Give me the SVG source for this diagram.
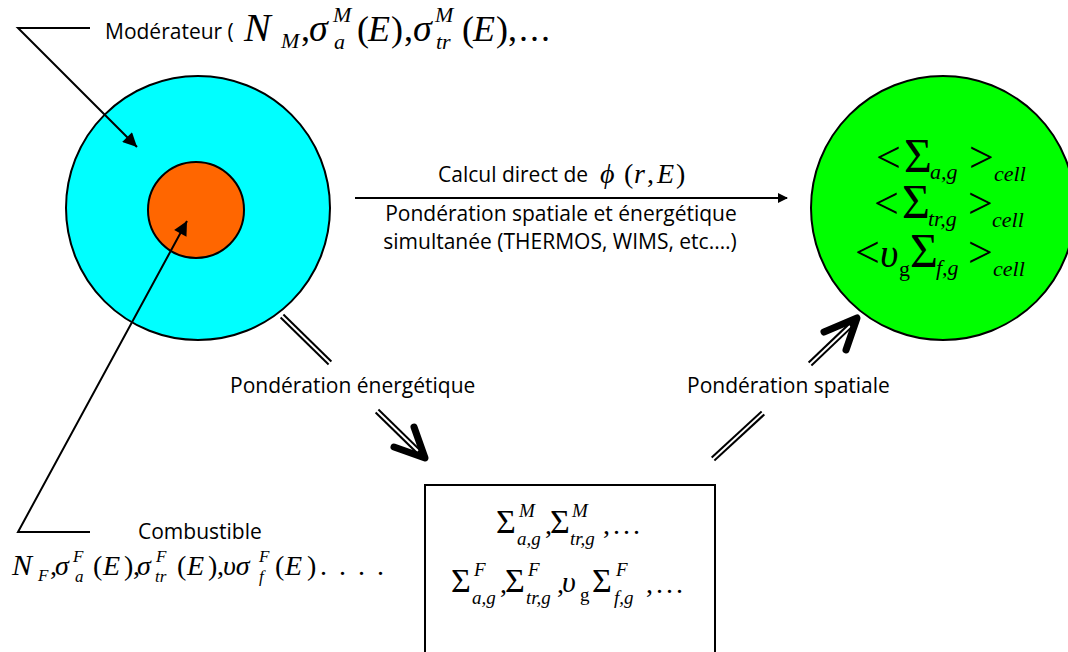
<svg xmlns="http://www.w3.org/2000/svg" width="1068" height="652" viewBox="0 0 1068 652">
<style>
.lbl{font-family:"Open Sans","Liberation Sans",sans-serif;font-size:21px;fill:#000}
.m{font-family:"Liberation Serif","Times New Roman",serif;font-style:italic;fill:#000}
.u{font-style:normal}
.ln{fill:none;stroke:#000;stroke-width:2}
.dbl{fill:none;stroke:#000;stroke-width:6}
.dblw{fill:none;stroke:#fff;stroke-width:2}
.head{fill:none;stroke:#000;stroke-width:7;stroke-linecap:round;stroke-linejoin:round}
</style>
<defs>
<marker id="tri" viewBox="0 0 10 10" refX="10" refY="5" markerWidth="8" markerHeight="7" orient="auto" markerUnits="strokeWidth">
<path d="M0,0 L10,5 L0,10 z" fill="#000"/>
</marker>
<marker id="tri2" viewBox="0 0 10 10" refX="9" refY="5" markerWidth="6" markerHeight="5" orient="auto" markerUnits="strokeWidth">
<path d="M0,0 L10,5 L0,10 z" fill="#000"/>
</marker>
</defs>
<rect width="1068" height="652" fill="#fff"/>

<g id="moderateur">
<circle cx="198" cy="208" r="132" fill="#00ffff" stroke="#000" stroke-width="2"/>
</g>
<g id="combustible">
<circle cx="196" cy="210" r="48" fill="#ff6600" stroke="#000" stroke-width="2"/>
</g>
<g id="cellule">
<circle cx="943" cy="208" r="132" fill="#00ff00" stroke="#000" stroke-width="2"/>
<text class="m" font-size="48"><tspan class="u" font-size="44" x="876" y="172">&lt;</tspan><tspan class="u" x="904" y="172">Σ</tspan><tspan font-size="22" x="930" y="179">a,g</tspan><tspan class="u" font-size="44" x="969" y="172">&gt;</tspan><tspan font-size="22" x="994" y="181">cell</tspan></text>
<text class="m" font-size="48"><tspan class="u" font-size="44" x="874" y="218">&lt;</tspan><tspan class="u" x="902" y="218">Σ</tspan><tspan font-size="22" x="928" y="226">tr,g</tspan><tspan class="u" font-size="44" x="968" y="218">&gt;</tspan><tspan font-size="22" x="992" y="227">cell</tspan></text>
<text class="m" font-size="48"><tspan class="u" font-size="44" x="855" y="267">&lt;</tspan><tspan font-size="40" x="880" y="267">υ</tspan><tspan class="u" font-size="22" x="899" y="276">g</tspan><tspan class="u" x="910" y="267">Σ</tspan><tspan font-size="22" x="936" y="275">f,g</tspan><tspan class="u" font-size="44" x="968" y="267">&gt;</tspan><tspan font-size="22" x="993" y="276">cell</tspan></text>
</g>
<g id="multigroupe">
<rect x="425" y="485" width="290" height="170" fill="#fff" stroke="#000" stroke-width="2"/>
<text class="m" font-size="34"><tspan class="u" x="496" y="533">Σ</tspan><tspan font-size="19" x="519" y="517">M</tspan><tspan font-size="19" x="517" y="545">a,g</tspan><tspan class="u" font-size="28" x="545" y="534">,</tspan><tspan class="u" x="550" y="533">Σ</tspan><tspan font-size="19" x="572" y="517">M</tspan><tspan font-size="19" x="570" y="545">tr,g</tspan><tspan class="u" font-size="28" x="603" y="534" letter-spacing="3">,...</tspan></text>
<text class="m" font-size="34"><tspan class="u" x="451" y="592">Σ</tspan><tspan font-size="19" x="474" y="576">F</tspan><tspan font-size="19" x="472" y="604">a,g</tspan><tspan class="u" font-size="28" x="500" y="593">,</tspan><tspan class="u" x="505" y="592">Σ</tspan><tspan font-size="19" x="528" y="576">F</tspan><tspan font-size="19" x="526" y="604">tr,g</tspan><tspan class="u" font-size="28" x="557" y="593">,</tspan><tspan font-size="30" x="562" y="592">υ</tspan><tspan class="u" font-size="19" x="580" y="601">g</tspan><tspan class="u" x="592" y="592">Σ</tspan><tspan font-size="19" x="616" y="576">F</tspan><tspan font-size="19" x="614" y="604">f,g</tspan><tspan class="u" font-size="28" x="646" y="593" letter-spacing="3">,...</tspan></text>
</g>
<g id="label-moderateur">
<text class="lbl" x="105" y="39">Modérateur (</text>
<text class="m" font-size="36"><tspan font-size="40" x="244" y="41">N</tspan><tspan font-size="22" x="281" y="48">M</tspan><tspan class="u" x="301" y="41">,</tspan><tspan font-size="38" x="309" y="41">σ</tspan><tspan font-size="22" x="333" y="22">M</tspan><tspan font-size="22" x="334" y="49">a</tspan><tspan class="u" x="357" y="41">(</tspan><tspan x="368" y="41">E</tspan><tspan class="u" x="391" y="41">)</tspan><tspan class="u" x="404" y="41">,</tspan><tspan font-size="38" x="413" y="41">σ</tspan><tspan font-size="22" x="435" y="22">M</tspan><tspan font-size="22" x="436" y="49">tr</tspan><tspan class="u" x="462" y="41">(</tspan><tspan x="473" y="41">E</tspan><tspan class="u" x="496" y="41">)</tspan><tspan class="u" x="508" y="41" letter-spacing="2">,...</tspan></text>
</g>
<g id="label-combustible">
<text class="lbl" x="138" y="539">Combustible</text>
<text class="m" font-size="28"><tspan font-size="30" x="12" y="575">N</tspan><tspan font-size="17" x="38" y="581">F</tspan><tspan class="u" x="50" y="575">,</tspan><tspan x="55" y="575">σ</tspan><tspan font-size="17" x="73" y="562">F</tspan><tspan font-size="17" x="75" y="582">a</tspan><tspan class="u" x="93" y="575">(</tspan><tspan x="103" y="575">E</tspan><tspan class="u" x="124" y="575">)</tspan><tspan class="u" x="133" y="575">,</tspan><tspan x="137" y="575">σ</tspan><tspan font-size="17" x="156" y="562">F</tspan><tspan font-size="17" x="155" y="582">tr</tspan><tspan class="u" x="177" y="575">(</tspan><tspan x="187" y="575">E</tspan><tspan class="u" x="208" y="575">)</tspan><tspan class="u" x="217" y="575">,</tspan><tspan x="223" y="575">υσ</tspan><tspan font-size="17" x="259" y="562">F</tspan><tspan font-size="17" x="259" y="582">f</tspan><tspan class="u" x="275" y="575">(</tspan><tspan x="285" y="575">E</tspan><tspan class="u" x="307" y="575">)</tspan><tspan class="u" x="320" y="575" letter-spacing="12">....</tspan></text>
</g>
<g id="label-direct">
<text class="lbl" x="438" y="182">Calcul direct de</text>
<text class="m" font-size="28"><tspan x="600" y="183">ϕ</tspan><tspan class="u" x="624" y="183">(</tspan><tspan x="634" y="183">r</tspan><tspan class="u" x="647" y="183">,</tspan><tspan x="657" y="183">E</tspan><tspan class="u" x="676" y="183">)</tspan></text>
<text class="lbl" x="561" y="221" text-anchor="middle">Pondération spatiale et énergétique</text>
<text class="lbl" x="560" y="249" text-anchor="middle">simultanée (THERMOS, WIMS, etc.…)</text>
</g>
<g id="label-energetique">
<text class="lbl" x="230" y="393">Pondération énergétique</text>
</g>
<g id="label-spatiale">
<text class="lbl" x="687" y="393">Pondération spatiale</text>
</g>

<g id="connectors">
<polyline class="ln" points="90,28 18,28 137,147" marker-end="url(#tri)"/>
<polyline class="ln" points="90,532 18,532 187,221" marker-end="url(#tri)"/>
<line class="ln" stroke-width="3" x1="355" y1="198" x2="787" y2="198" marker-end="url(#tri2)"/>
<line class="dbl" x1="282" y1="316" x2="330" y2="363"/>
<line class="dblw" x1="281" y1="315" x2="331" y2="364"/>
<line class="dbl" x1="377" y1="411" x2="422" y2="455"/>
<line class="dblw" x1="376" y1="410" x2="418" y2="451"/>
<polyline class="head" points="394,447 425,458 414,427"/>
<line class="dbl" x1="713" y1="459" x2="763" y2="413"/>
<line class="dblw" x1="712" y1="460" x2="764" y2="412"/>
<line class="dbl" x1="810" y1="364" x2="854" y2="322"/>
<line class="dblw" x1="809" y1="365" x2="850" y2="326"/>
<polyline class="head" points="824,332 857,318 846,350"/>
</g>
</svg>
